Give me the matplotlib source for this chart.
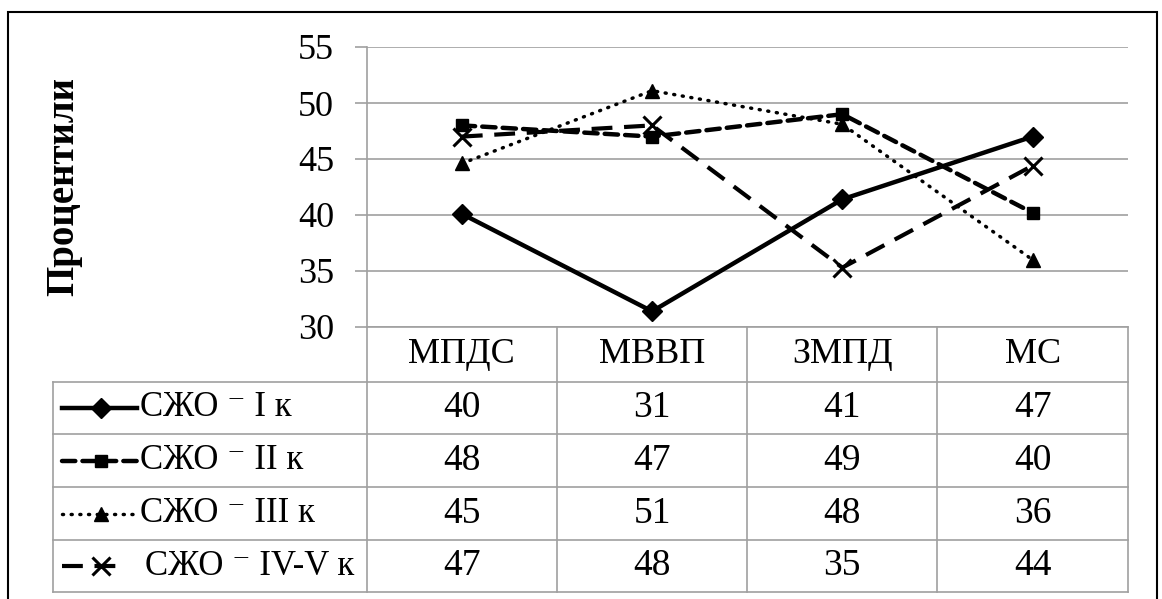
import matplotlib
matplotlib.use("Agg")
import matplotlib.pyplot as plt
import matplotlib.transforms as mtransforms
from matplotlib.lines import Line2D
from matplotlib.patches import Rectangle

categories = ["МПДС", "МВВП", "ЗМПД", "МС"]
series_names = ["СЖО ⁻ I к", "СЖО ⁻ II к", "СЖО ⁻ III к", "СЖО ⁻ IV-V к"]
s1 = [40.1, 31.4, 41.4, 47.0]
s2 = [48.0, 47.0, 49.0, 40.2]
s3 = [44.6, 51.1, 48.1, 36.0]
s4 = [47.0, 48.0, 35.3, 44.4]
yticks = [30, 35, 40, 45, 50, 55]

W, H = 1162, 599
plt.rcParams["font.family"] = ["Liberation Serif", "DejaVu Serif"]
GRID = "#a0a0a0"

fig = plt.figure(figsize=(W / 100, H / 100), dpi=100)

def fx(px):
    return px / W

def fy(py):
    return 1 - py / H

# plot area edges in pixels
L, R, T, B = 366.7, 1127.7, 47, 327
ax = fig.add_axes([fx(L), fy(B), fx(R) - fx(L), fy(T) - fy(B)])

styles = [
    dict(color="black", lw=3.2, ls="-", marker="D", ms=10),
    dict(color="black", lw=3.2, ls=(0, (3, 1.6)), marker="s", ms=9, dash_capstyle="round"),
    dict(color="black", lw=2.5, ls=(0, (0.3, 2.2)), marker="^", ms=10, dash_capstyle="round"),
    dict(color="black", lw=3.0, ls=(0, (5, 2.8)), marker="x", ms=13, mew=2.2),
]
data = [s1, s2, s3, s4]
x = list(range(len(categories)))
for vals, st in zip(data, styles):
    ax.plot(x, vals, zorder=3, **st)

ax.set_xlim(-0.5, len(categories) - 0.5)
ax.set_ylim(30, 55)
ax.set_yticks(yticks)
ax.set_xticks([])
ax.grid(axis="y", color=GRID, lw=1.2)
ax.set_axisbelow(True)
for side in ["top", "right", "bottom"]:
    ax.spines[side].set_visible(False)
ax.spines["left"].set_color(GRID)
ax.spines["left"].set_linewidth(1.2)
ax.tick_params(axis="y", length=8.4, width=1.2, color=GRID, pad=15, labelsize=26)

fig.text(fx(64), fy(187), "Процентили", rotation=90, ha="center", va="center",
         fontsize=28, fontweight="bold")

# data table under the plot
rows = [327, 381.7, 434.3, 487.3, 540, 592.3]
col_edges = [L + i * (R - L) / 4 for i in range(5)]
TL = 53.3

def hline(py, x0, x1):
    fig.add_artist(Line2D([fx(x0), fx(x1)], [fy(py), fy(py)], color=GRID, lw=1.2,
                          transform=fig.transFigure))

def vline(px, y0, y1):
    fig.add_artist(Line2D([fx(px), fx(px)], [fy(y0), fy(y1)], color=GRID, lw=1.2,
                          transform=fig.transFigure))

hline(rows[0], L, R)
for py in rows[1:]:
    hline(py, TL, R)
vline(TL, rows[1], rows[-1])
for px in col_edges:
    vline(px, rows[0], rows[-1])

trans = mtransforms.blended_transform_factory(ax.transData, fig.transFigure)
hy = (rows[0] + rows[1]) / 2
for xi, cat in zip(x, categories):
    fig.text(xi, fy(hy), cat, transform=trans, ha="center", va="center", fontsize=26)

sample_end = [137, 137, 137, 116]
label_x = [140, 140, 140, 145]
for r, (vals, name, st) in enumerate(zip(data, series_names, styles)):
    cy = fy((rows[r + 1] + rows[r + 2]) / 2)
    for xi, v in zip(x, vals):
        fig.text(xi, cy, f"{round(v):d}", transform=trans, ha="center", va="center",
                 fontsize=27)
    line_st = {k: v for k, v in st.items() if k not in ("marker", "ms", "mew")}
    fig.add_artist(Line2D([fx(62), fx(sample_end[r])], [cy, cy], transform=fig.transFigure,
                          **line_st))
    fig.add_artist(Line2D([fx(101)], [cy], transform=fig.transFigure, color="black",
                          marker=st["marker"], ms=st["ms"], mew=st.get("mew", 1.0), ls="none"))
    fig.text(fx(label_x[r]), cy, name, ha="left", va="center", fontsize=25)

# outer chart frame
fig.add_artist(Rectangle((fx(8), fy(640)), fx(1157) - fx(8), fy(12) - fy(640),
                         transform=fig.transFigure, fill=False, ec="black", lw=1.5))

fig.savefig("out.png", dpi=100)
